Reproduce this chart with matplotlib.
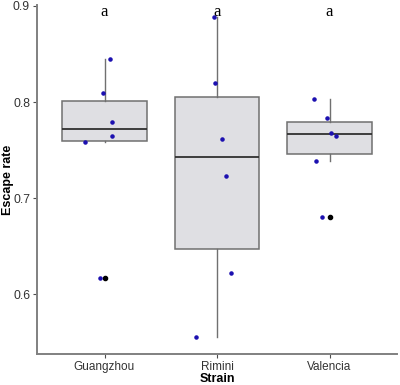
import matplotlib
matplotlib.use("Agg")
import matplotlib.pyplot as plt
import numpy as np

strains = ["Guangzhou", "Rimini", "Valencia"]
guangzhou = [0.845, 0.809, 0.779, 0.765, 0.758, 0.617]
rimini = [0.888, 0.820, 0.762, 0.723, 0.622, 0.555]
valencia = [0.803, 0.783, 0.768, 0.765, 0.739, 0.680]
# horizontal jitter of the dots (category units)
jit_guangzhou = [0.05, -0.01, 0.07, 0.07, -0.17, -0.04]
jit_rimini = [-0.03, -0.02, 0.04, 0.08, 0.12, -0.19]
jit_valencia = [-0.14, -0.02, 0.01, 0.06, -0.12, -0.07]
letters = ["a", "a", "a"]

groups = [guangzhou, rimini, valencia]
jitters = [jit_guangzhou, jit_rimini, jit_valencia]
pos = np.arange(1, len(strains) + 1)

plt.rcParams["font.family"] = ["Liberation Sans", "DejaVu Sans"]
fig = plt.figure(figsize=(4, 3.85), dpi=100)
ax = fig.add_axes([0.0925, 0.08, 0.9, 0.907])

edge = "#707070"
ax.boxplot(groups, positions=pos, widths=0.75, patch_artist=True,
           boxprops=dict(facecolor="#dfdfe3", edgecolor=edge, linewidth=1.1),
           medianprops=dict(color="#303030", linewidth=1.3),
           whiskerprops=dict(color=edge, linewidth=1.0),
           capprops=dict(linewidth=0),
           flierprops=dict(marker="o", markersize=3, markerfacecolor="black",
                           markeredgecolor="black"))

for p, vals, jit in zip(pos, groups, jitters):
    ax.scatter(p + np.array(jit), vals, s=5, color="#1c10b0", zorder=3)

for p, lab in zip(pos, letters):
    ax.text(p, 0.894, lab, ha="center", va="center", fontsize=12,
            family="Liberation Serif")

ax.set_xlim(0.4, 3.6)
ax.set_ylim(0.5375, 0.901)
ax.set_xticks(pos)
ax.set_xticklabels(strains, fontsize=8.5)
ax.set_yticks([0.6, 0.7, 0.8, 0.9])
ax.set_yticklabels(["0.6", "0.7", "0.8", "0.9"], fontsize=8.8)
ax.tick_params(colors="#4d4d4d", length=3, width=0.8, labelcolor="#333333",
               pad=2)
for s in ["top", "right"]:
    ax.spines[s].set_visible(False)
for s in ["left", "bottom"]:
    ax.spines[s].set_color("#808080")
    ax.spines[s].set_linewidth(1.4)
ax.set_xlabel("Strain", fontweight="bold", fontsize=9, va="center")
ax.set_ylabel("Escape rate", fontweight="bold", fontsize=9, va="center")
ax.xaxis.set_label_coords(0.5, -0.07)
ax.yaxis.set_label_coords(-0.08, 0.5)

fig.savefig("out.png", dpi=100)
